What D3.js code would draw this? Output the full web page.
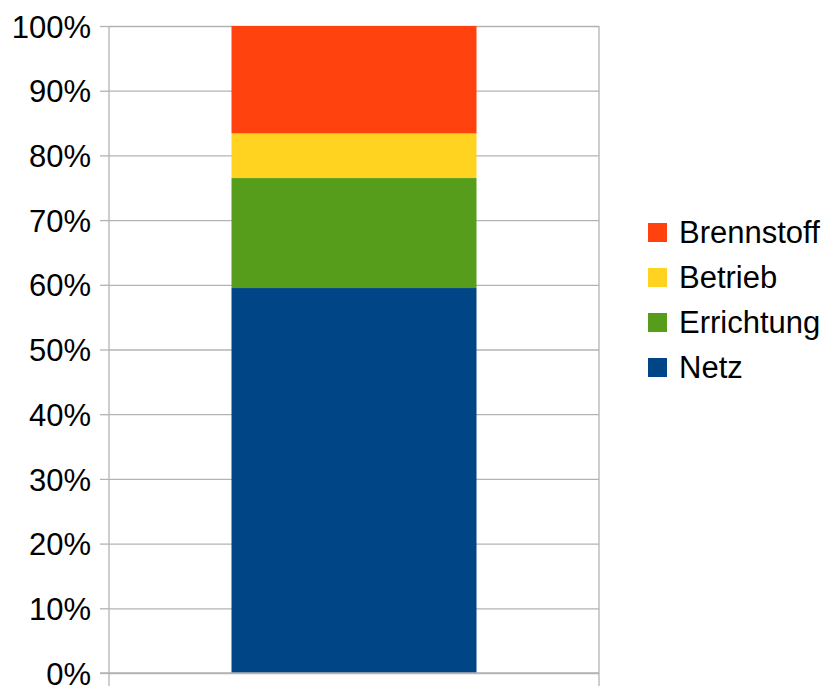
<!DOCTYPE html>
<html>
<head>
<meta charset="utf-8">
<script src="https://cdn.jsdelivr.net/npm/d3@7"></script>
<style>
  body { margin: 0; background: #fff; }
  text { font-family: "Liberation Sans", Arial, sans-serif; fill: #000; }
</style>
</head>
<body>
<svg id="svgcanvas" width="831" height="686"></svg>
<script>
// shares of the cost components (percent), bottom to top
var series = ["Netz", "Errichtung", "Betrieb", "Brennstoff"];
var values = [59.5, 17.0, 6.9, 16.6];
var colors = ["#004586", "#579d1c", "#ffd320", "#ff420e"];
var categories = [""];
var yTicks = [0, 10, 20, 30, 40, 50, 60, 70, 80, 90, 100];

var plotLeft = 109, plotRight = 599, plotTop = 26, plotBottom = 673;
var svg = d3.select("#svgcanvas");

var x = d3.scaleBand().domain(categories).range([plotLeft, plotRight])
  .paddingInner(0.5).paddingOuter(0.25);
var y = d3.scaleLinear().domain([0, 100]).range([plotBottom, plotTop]);

// gridlines
svg.append("g")
  .attr("transform", "translate(" + plotLeft + ",0)")
  .call(d3.axisLeft(y).tickValues(yTicks).tickSize(-(plotRight - plotLeft)).tickFormat(""))
  .call(g => g.select(".domain").remove())
  .call(g => g.selectAll("line").attr("stroke", "#b3b3b3").attr("stroke-width", 1.3));

// y axis with labels and small outside ticks
svg.append("g")
  .attr("transform", "translate(" + plotLeft + ",0)")
  .call(d3.axisLeft(y).tickValues(yTicks).tickSize(9).tickPadding(9).tickFormat(d => d + "%"))
  .call(g => g.select(".domain").remove())
  .call(g => g.selectAll("line").attr("stroke", "#b3b3b3").attr("stroke-width", 1.3))
  .call(g => g.selectAll("text").attr("font-size", 31).attr("font-family", "Liberation Sans, Arial, sans-serif").attr("fill", "#000").attr("dy", "0.36em"));

// vertical border lines (category edges)
svg.selectAll("line.edge")
  .data([plotLeft, plotRight])
  .enter().append("line")
  .classed("edge", true)
  .attr("x1", d => d).attr("x2", d => d)
  .attr("y1", plotTop).attr("y2", 686)
  .attr("stroke", "#b3b3b3").attr("stroke-width", 1.3);

// stacked bar
var row = {};
series.forEach(function(s, i) { row[s] = values[i]; });
var stacked = d3.stack().keys(series)([row]);

svg.selectAll("rect.seg")
  .data(stacked)
  .enter().append("rect")
  .classed("seg", true)
  .attr("x", x(categories[0]))
  .attr("width", x.bandwidth())
  .attr("y", d => y(d[0][1]))
  .attr("height", d => y(d[0][0]) - y(d[0][1]))
  .attr("fill", (d, i) => colors[i]);

// bottom axis line on top
svg.append("line")
  .attr("x1", plotLeft - 9).attr("x2", plotRight)
  .attr("y1", y(0)).attr("y2", y(0))
  .attr("stroke", "#b3b3b3").attr("stroke-width", 1.3);

// legend (top to bottom: reversed order)
var legend = svg.append("g");
var items = series.map((s, i) => ({name: s, color: colors[i]})).reverse();
var lg = legend.selectAll("g.item")
  .data(items)
  .enter().append("g")
  .classed("item", true)
  .attr("transform", (d, i) => "translate(648," + (223 + i * 45) + ")");
lg.append("rect").attr("width", 19).attr("height", 19).attr("fill", d => d.color);
lg.append("text").attr("x", 31).attr("y", 20).attr("font-size", 31).text(d => d.name);
</script>
</body>
</html>
